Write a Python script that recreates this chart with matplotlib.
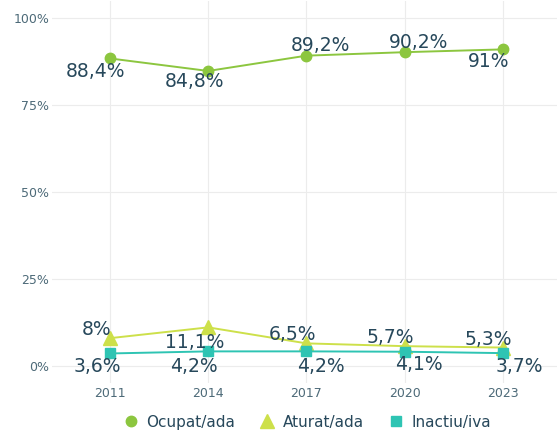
import matplotlib
matplotlib.use("Agg")
import matplotlib.pyplot as plt
from matplotlib.ticker import FuncFormatter

years = ["2011", "2014", "2017", "2020", "2023"]
ocupat = [88.4, 84.8, 89.2, 90.2, 91.0]
aturat = [8.0, 11.1, 6.5, 5.7, 5.3]
inactiu = [3.6, 4.2, 4.2, 4.1, 3.7]
y_ticks = [0, 25, 50, 75, 100]

# label offsets in pixels (dx, dy; dy positive = up)
ocupat_off = [(-14, -13), (-14, -11), (14, 10), (14, 10), (-14, -12)]
aturat_off = [(-13, 9), (-14, -15), (-14, 9), (-14, 9), (-15, 8)]
inactiu_off = [(-13, -13), (-14, -15), (14, -15), (14, -13), (16, -13)]

c_ocu = "#8cc63f"
c_atu = "#cde04a"
c_ina = "#2ec4b3"
txt = "#27485b"
tick_c = "#4d6a78"

plt.rcParams['font.family'] = ['DejaVu Sans']

fig = plt.figure(figsize=(5.57, 4.30), dpi=100)
ax = fig.add_axes([52/557, 0.1084, 1 - 52/557, 0.890])

x = list(range(len(years)))
ax.plot(x, ocupat, color=c_ocu, lw=1.4, marker='o', ms=7.5, label='Ocupat/ada', zorder=3)
ax.plot(x, aturat, color=c_atu, lw=1.4, marker='^', ms=10.5, label='Aturat/ada', zorder=3)
ax.plot(x, inactiu, color=c_ina, lw=1.4, marker='s', ms=7.8, label='Inactiu/iva', zorder=4)

def fmt(v):
    s = f"{v:.1f}".rstrip('0').rstrip('.')
    return s.replace('.', ',') + '%'

def label(vals, offs):
    for i, (v, (dx, dy)) in enumerate(zip(vals, offs)):
        ax.annotate(fmt(v), (i, v), xytext=(dx, dy), textcoords='offset pixels',
                    ha='center', va='center', fontsize=13.5, color=txt, zorder=5)

label(ocupat, ocupat_off)
label(aturat, aturat_off)
label(inactiu, inactiu_off)

ax.set_xlim(-0.59, 4.55)
ax.set_ylim(-5, 105)
ax.set_xticks(x)
ax.set_xticklabels(years)
ax.set_yticks(y_ticks)
ax.yaxis.set_major_formatter(FuncFormatter(lambda v, p: f"{int(v)}%"))
ax.tick_params(length=0, labelsize=9, colors=tick_c)
ax.tick_params(axis='x', pad=2.5)
ax.tick_params(axis='y', pad=2)
ax.grid(True, color="#ececec", lw=0.8)
for s in ax.spines.values():
    s.set_visible(False)

leg = fig.legend(loc='center', bbox_to_anchor=(307/557, 1 - 422/430), ncol=3, frameon=False,
                 fontsize=11, handlelength=1.0, handletextpad=0.5, columnspacing=1.6,
                 labelcolor=txt)
for h in leg.legend_handles:
    h.set_linestyle('None')

fig.savefig("out.png", dpi=100)
